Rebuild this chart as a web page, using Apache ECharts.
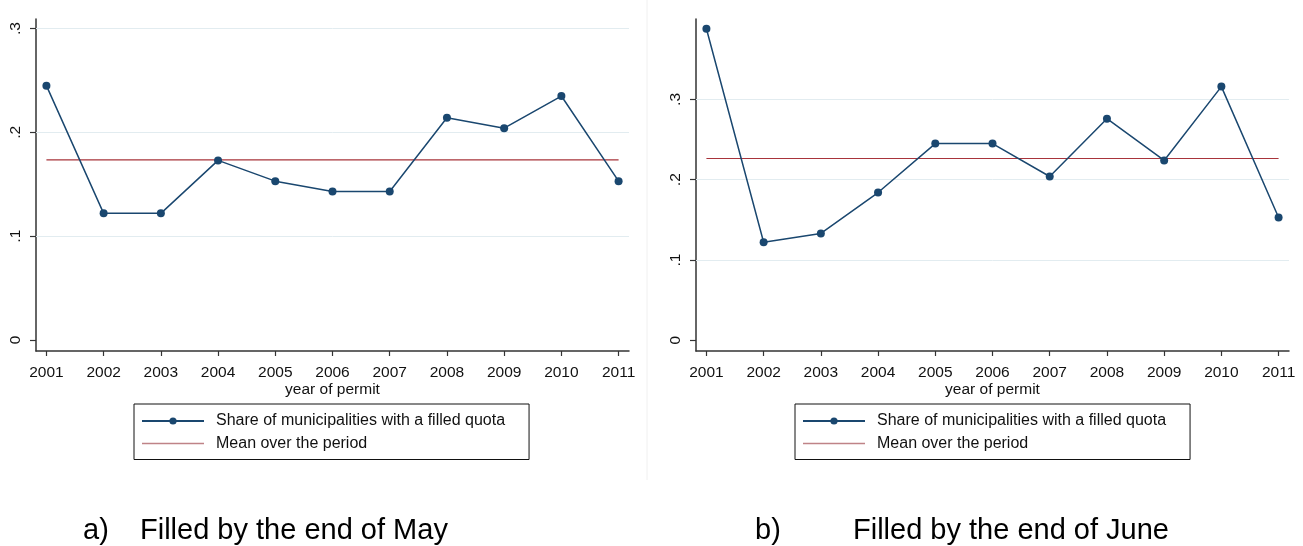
<!DOCTYPE html>
<html>
<head>
<meta charset="utf-8">
<script src="https://cdn.jsdelivr.net/npm/echarts@6/dist/echarts.min.js"></script>
<style>
html, body { margin: 0; padding: 0; background: #fff; }
#chart { width: 1303px; height: 546px; }
</style>
</head>
<body>
<div id="chart"></div>
<script>
const years = [2001, 2002, 2003, 2004, 2005, 2006, 2007, 2008, 2009, 2010, 2011];
const shareMay = [0.245, 0.122, 0.122, 0.173, 0.153, 0.143, 0.143, 0.214, 0.204, 0.235, 0.153];
const shareJune = [0.388, 0.122, 0.133, 0.184, 0.245, 0.245, 0.204, 0.276, 0.224, 0.316, 0.153];
const meanMay = 0.1735;
const meanJune = 0.2264;
const yTicks = [0, 0.1, 0.2, 0.3];
const yTickLabels = ['0', '.1', '.2', '.3'];
const gridValues = [0.1, 0.2, 0.3];
const seriesNames = ['Share of municipalities with a filled quota', 'Mean over the period'];
const captions = [['a)', 'Filled by the end of May'], ['b)', 'Filled by the end of June']];

const NAVY = '#1a476f';
const MAROON = '#a8343b';
const FONT = '"Liberation Sans", Arial, sans-serif';

const xAxisOf = (idx) => ({
    type: 'value',
    gridIndex: idx,
    min: 2000.818,
    max: 2011.182,
    name: 'year of permit',
    nameLocation: 'middle',
    nameGap: 31,
    nameMoveOverlap: false,
    nameTextStyle: { color: '#111', fontSize: 15.5, fontFamily: FONT },
    axisLine: { onZero: false, lineStyle: { color: '#333', width: 1.5 } },
    axisTick: { customValues: years, length: 5, lineStyle: { color: '#333', width: 1.2 } },
    axisLabel: {
        customValues: years,
        margin: 13.5,
        color: '#111',
        fontSize: 15.5,
        fontFamily: FONT,
        formatter: (v) => String(Math.round(v))
    },
    splitLine: { show: false }
});

const yAxisOf = (idx, min, max) => ({
    type: 'value',
    gridIndex: idx,
    min: min,
    max: max,
    axisLine: { show: true, onZero: false, lineStyle: { color: '#333', width: 1.5 } },
    axisTick: { show: true, customValues: yTicks, length: 6, lineStyle: { color: '#333', width: 1.2 } },
    axisLabel: {
        customValues: yTicks,
        rotate: 90,
        margin: 12,
        color: '#111',
        fontSize: 15.5,
        fontFamily: FONT,
        formatter: (v) => {
            let i = yTicks.findIndex((t) => Math.abs(t - v) < 1e-6);
            return i >= 0 ? yTickLabels[i] : '';
        }
    },
    splitLine: { show: false }
});

const seriesOf = (idx, values, mean) => [{
    name: seriesNames[1],
    type: 'line',
    xAxisIndex: idx,
    yAxisIndex: idx,
    symbol: 'none',
    z: 2,
    lineStyle: { color: MAROON, width: 1.2 },
    itemStyle: { color: MAROON },
    data: years.map((y) => [y, mean]),
    markLine: {
        silent: true,
        symbol: 'none',
        label: { show: false },
        lineStyle: { color: '#e2ecf0', width: 1, type: 'solid' },
        z: 1,
        data: gridValues.map((v) => ({ yAxis: v }))
    }
}, {
    name: seriesNames[0],
    type: 'line',
    xAxisIndex: idx,
    yAxisIndex: idx,
    symbol: 'circle',
    symbolSize: 8,
    z: 3,
    lineStyle: { color: NAVY, width: 1.5 },
    itemStyle: { color: NAVY },
    data: years.map((y, i) => [y, values[i]])
}];

const legendOf = (left) => ({
    orient: 'vertical',
    left: left,
    top: 404,
    data: [
        { name: seriesNames[0] },
        {
            name: seriesNames[1],
            itemStyle: { color: 'rgba(0,0,0,0)', borderWidth: 0, opacity: 0 },
            lineStyle: { color: '#bf8387', width: 1.5 }
        }
    ],
    itemWidth: 62,
    itemHeight: 9,
    itemGap: 4.5,
    padding: [8, 24, 7, 7],
    borderColor: '#111',
    borderWidth: 1,
    selectedMode: false,
    textStyle: { color: '#111', fontSize: 16, fontFamily: FONT, lineHeight: 18, padding: [0, 0, 0, 7] }
});

const captionText = (x, text) => ({
    type: 'text',
    x: x,
    y: 531,
    style: { text: text, fill: '#000', fontSize: 29, fontFamily: FONT, verticalAlign: 'middle', align: 'left' }
});

let myChart = echarts.init(document.getElementById('chart'));
let option = {
    animation: false,
    backgroundColor: '#fff',
    grid: [
        { left: 36, top: 19, width: 593, height: 332 },
        { left: 696, top: 19, width: 593, height: 332 }
    ],
    xAxis: [xAxisOf(0), xAxisOf(1)],
    yAxis: [yAxisOf(0, -0.0106, 0.3092), yAxisOf(1, -0.0134, 0.4002)],
    legend: [legendOf(134), legendOf(795)],
    series: seriesOf(0, shareMay, meanMay).concat(seriesOf(1, shareJune, meanJune)),
    graphic: [
        { type: 'line', shape: { x1: 647, y1: 0, x2: 647, y2: 480 }, style: { stroke: '#f0f0f0', lineWidth: 1 } },
        captionText(83, captions[0][0]),
        captionText(140, captions[0][1]),
        captionText(755, captions[1][0]),
        captionText(853, captions[1][1])
    ]
};
myChart.setOption(option);
</script>
</body>
</html>
